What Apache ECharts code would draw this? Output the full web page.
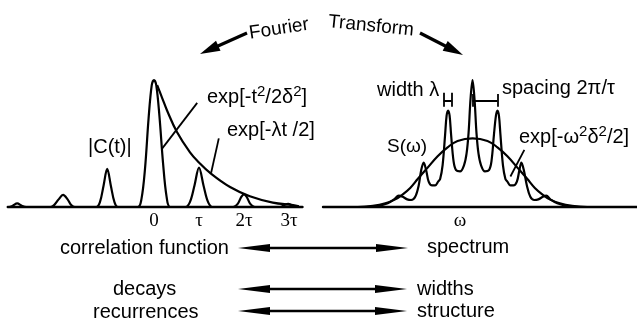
<!DOCTYPE html>
<html><head><meta charset="utf-8">
<script src="https://cdn.jsdelivr.net/npm/echarts@6/dist/echarts.min.js"></script>
<style>html,body{margin:0;padding:0;background:#fff}#c{width:637px;height:321px}</style>
</head><body><div id="c"></div>
<script>
// ---- Left panel: correlation function |C(t)| (t in units of tau) ----
const corrT   = [-3.25,-3.22,-3.14,-3.04,-2.94,-2.84,-2.3,-2.22,-2.12,-2.02,-1.92,-1.84,-1.76,-1.28,-1.2,-1.12,-1.04,-0.96,-0.88,-0.8,-0.36,-0.28,-0.2,-0.12,-0.05,0,0.05,0.12,0.2,0.28,0.36,0.7,0.8,0.9,1.0,1.1,1.2,1.3,1.76,1.86,1.94,2.0,2.06,2.14,2.24,2.8,2.9,2.98,3.06,3.14,3.3];
const corrAmp = [0,0,0.01,0.028,0.01,0,0,0.015,0.06,0.095,0.06,0.015,0,0,0.04,0.17,0.30,0.17,0.04,0,0,0.06,0.3,0.7,0.96,1.0,0.96,0.72,0.35,0.08,0,0,0.04,0.17,0.31,0.17,0.04,0,0,0.025,0.08,0.10,0.08,0.025,0,0,0.015,0.025,0.015,0,0];
// decay envelope exp[-lambda t/2]
const decayT   = [0.07,0.18,0.29,0.51,0.8,1.0,1.24,1.69,2.13,2.64,3.09,3.22];
const decayAmp = [0.96,0.86,0.76,0.59,0.43,0.35,0.27,0.157,0.085,0.035,0.015,0.005];
const leftTickValues = [0,1,2,3];
const leftTickLabels = ['0','τ','2τ','3τ'];

// ---- Right panel: spectrum S(omega) (omega in units of 2pi/tau) ----
const specW   = [-4.6,-3.8,-3.4,-3.15,-2.96,-2.8,-2.62,-2.46,-2.3,-2.16,-2.06,-1.96,-1.86,-1.76,-1.62,-1.5,-1.38,-1.3,-1.2,-1.1,-1.04,-0.98,-0.92,-0.86,-0.76,-0.66,-0.5,-0.34,-0.24,-0.16,-0.08,0,0.08,0.16,0.24,0.34,0.5,0.66,0.76,0.86,0.94,1.0,1.06,1.12,1.22,1.32,1.4,1.52,1.64,1.78,1.88,1.96,2.06,2.18,2.32,2.48,2.64,2.82,2.96,3.12,3.4,3.8,4.6];
const specAmp = [0,0.008,0.03,0.06,0.09,0.08,0.06,0.055,0.08,0.17,0.29,0.35,0.29,0.2,0.17,0.17,0.2,0.22,0.33,0.57,0.72,0.76,0.72,0.57,0.36,0.29,0.28,0.33,0.42,0.58,0.85,1.0,0.85,0.58,0.42,0.33,0.28,0.29,0.36,0.57,0.72,0.76,0.72,0.57,0.33,0.22,0.2,0.17,0.17,0.2,0.29,0.35,0.29,0.17,0.08,0.055,0.06,0.08,0.09,0.06,0.03,0.008,0];
// gaussian envelope exp[-w^2 d^2/2]
const envW   = [-4.6,-4.0,-3.5,-3.1,-2.8,-2.5,-2.2,-1.8,-1.4,-1.0,-0.6,0,0.6,1.0,1.4,1.8,2.2,2.5,2.8,3.1,3.5,4.0,4.6];
const envAmp = [0,0.01,0.03,0.06,0.10,0.15,0.22,0.31,0.40,0.47,0.52,0.54,0.52,0.47,0.40,0.31,0.22,0.15,0.10,0.06,0.03,0.01,0];
const rightTickValues = [-0.5];
const rightTickLabels = ['ω'];

// annotation leader lines / brackets (data coordinates)
const leftLeaders  = [[[0.96,0.82],[0.18,0.46]], [[1.44,0.54],[1.27,0.27]]];
const rightLeaders = [[[2.08,0.45],[1.52,0.24]]];
const widthBracket   = [[[-1.16,0.79],[-1.16,0.9]], [[-0.84,0.79],[-0.84,0.9]], [[-1.16,0.84],[-0.84,0.84]]];
const spacingBracket = [[[0,0.84],[1.0,0.84]], [[1.0,0.79],[1.0,0.89]], [[0.02,0.79],[0.02,0.89]]];

const SANS = '"Liberation Sans", Arial, sans-serif';
const SERIF = '"Liberation Serif", "Times New Roman", serif';
const zip = (a,b) => a.map((v,i)=>[v,b[i]]);

function arrowEls(x1,y1,x2,y2,hl,hw,lw,both){
  const els=[]; const dx=x2-x1, dy=y2-y1, L=Math.hypot(dx,dy), ux=dx/L, uy=dy/L, px=-uy, py=ux;
  const head=(tx,ty,sx,sy)=>({type:'polygon',shape:{points:[[tx,ty],[tx-sx*hl+px*hw,ty-sy*hl+py*hw],[tx-sx*hl-px*hw,ty-sy*hl-py*hw]]},style:{fill:'#000'}});
  const sx1 = both? x1+ux*hl*0.8 : x1, sy1 = both? y1+uy*hl*0.8 : y1;
  els.push({type:'line',shape:{x1:sx1,y1:sy1,x2:x2-ux*hl*0.8,y2:y2-uy*hl*0.8},style:{stroke:'#000',lineWidth:lw}});
  els.push(head(x2,y2,ux,uy));
  if(both) els.push(head(x1,y1,-ux,-uy));
  return els;
}
function txt(t,x,y,opt){
  opt=opt||{};
  return {type:'text',x:x,y:y,rotation:opt.rot||0,style:{text:t,font:(opt.size||20)+'px '+(opt.fam||SANS),fill:'#000',align:opt.align||'left',verticalAlign:'middle'}};
}
const richStyles = {
  m:{fontFamily:SANS,fontSize:20,lineHeight:26,verticalAlign:'middle',color:'#000'},
  s:{fontFamily:SANS,fontSize:15,lineHeight:15,verticalAlign:'top',color:'#000'}
};
function rtxt(t,x,y){
  return {type:'text',x:x,y:y,style:{text:t,rich:richStyles,align:'left',verticalAlign:'middle',fill:'#000'}};
}

const graphics = [].concat(
  arrowEls(247,33,200,54,20,5.5,3.2,false),
  arrowEls(420,33,463,55,20,5.5,3.2,false),
  arrowEls(238,248,408,248,32,4,2.6,true),
  arrowEls(238,289,407,289,32,4,2.6,true),
  arrowEls(238,311,407,311,32,4,2.6,true),
  [
    txt('Fourier',279,29,{align:'center',rot:0.15,size:19}),
    txt('Transform',371,26,{align:'center',rot:-0.1,size:19}),
    txt('|C(t)|',88,147),
    rtxt('{m|exp[-t}{s|2}{m|/2δ}{s|2}{m|]}',207,97),
    txt('exp[-λt /2]',227,130),
    txt('width λ',377,90),
    txt('spacing 2π/τ',502,88),
    txt('S(ω)',387,147,{size:19}),
    rtxt('{m|exp[-ω}{s|2}{m|δ}{s|2}{m|/2]}',519,137),
    txt('correlation function',60,248),
    txt('spectrum',427,247),
    txt('decays',113,289),
    txt('widths',417,289),
    txt('recurrences',93,312),
    txt('structure',417,311)
  ]
);

const lineStyle = {color:'#000', width:2.2};
function axisX(idx,min,max,tv,tl){
  return {type:'value',gridIndex:idx,min:min,max:max,
    axisLine:{show:true,onZero:false,lineStyle:{color:'#000',width:2.4}},
    axisTick:{show:false},splitLine:{show:false},
    axisLabel:{show:true,customValues:tv,margin:5,color:'#000',fontFamily:SERIF,fontSize:19,
      formatter:(v)=>{const i=tv.findIndex(x=>Math.abs(x-v)<1e-6);return i>=0?tl[i]:'';}}};
}
function axisY(idx){
  return {type:'value',gridIndex:idx,min:0,max:1.2,show:false,splitLine:{show:false}};
}
const option = {
  animation:false,
  backgroundColor:'#fff',
  grid:[{left:7.75,top:54.6,width:294.75,height:152.4},{left:323,top:54.6,width:315,height:152.4}],
  xAxis:[axisX(0,-3.25,3.3,leftTickValues,leftTickLabels),axisX(1,-6,6.6,rightTickValues,rightTickLabels)],
  yAxis:[axisY(0),axisY(1)],
  series:[
    {type:'line',xAxisIndex:0,yAxisIndex:0,data:zip(corrT,corrAmp),smooth:0.35,showSymbol:false,lineStyle:lineStyle},
    {type:'line',xAxisIndex:0,yAxisIndex:0,data:zip(decayT,decayAmp),smooth:0.4,showSymbol:false,lineStyle:lineStyle},
    {type:'line',xAxisIndex:1,yAxisIndex:1,data:zip(specW,specAmp),smooth:0.35,showSymbol:false,lineStyle:lineStyle},
    {type:'line',xAxisIndex:1,yAxisIndex:1,data:zip(envW,envAmp),smooth:0.4,showSymbol:false,lineStyle:lineStyle},
    {type:'lines',coordinateSystem:'cartesian2d',xAxisIndex:0,yAxisIndex:0,data:leftLeaders.map(c=>({coords:c})),lineStyle:{color:'#000',width:1.8,opacity:1}},
    {type:'lines',coordinateSystem:'cartesian2d',xAxisIndex:1,yAxisIndex:1,data:rightLeaders.concat(widthBracket,spacingBracket).map(c=>({coords:c})),lineStyle:{color:'#000',width:1.8,opacity:1}}
  ],
  graphic:graphics
};
const chart = echarts.init(document.getElementById('c'),null,{renderer:'canvas'});
chart.setOption(option);
</script></body></html>
